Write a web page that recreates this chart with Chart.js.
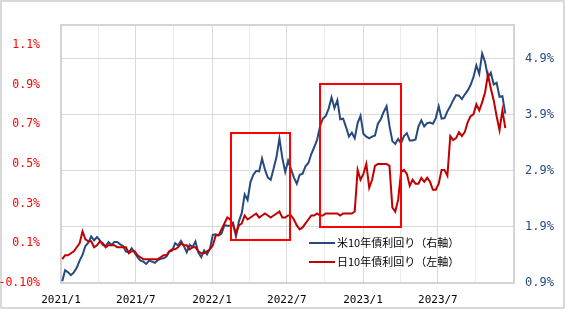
<!DOCTYPE html>
<html>
<head>
<meta charset="utf-8">
<script src="https://cdn.jsdelivr.net/npm/chart.js@4.4.0/dist/chart.umd.min.js"></script>
<style>
  body { margin: 0; background: #fff; }
</style>
</head>
<body>
<canvas id="yieldChart" width="568" height="314"></canvas>
<script>
// weekly readings, first week of 2021 onwards
const firstWeek = '2021-01-04'

// US 10y yield (%), right axis
const usYield = [
  0.93, 1.13, 1.09, 1.04, 1.09, 1.17, 1.30, 1.40, 1.56, 1.62,
  1.73, 1.66, 1.72, 1.66, 1.58, 1.56, 1.63, 1.58, 1.63, 1.63,
  1.59, 1.56, 1.46, 1.45, 1.52, 1.44, 1.36, 1.30, 1.28, 1.24,
  1.30, 1.28, 1.26, 1.31, 1.33, 1.34, 1.37, 1.46, 1.48, 1.61,
  1.57, 1.65, 1.56, 1.45, 1.58, 1.54, 1.64, 1.44, 1.36, 1.48,
  1.41, 1.51,
  1.76, 1.77, 1.75, 1.78, 1.93, 1.92, 1.92, 1.97, 1.73, 2.00,
  2.15, 2.48, 2.38, 2.70, 2.83, 2.90, 2.89, 3.12, 2.92, 2.78,
  2.74, 2.94, 3.15, 3.48, 3.13, 2.88, 3.08, 2.93, 2.78, 2.67,
  2.83, 2.85, 2.98, 3.04, 3.20, 3.32, 3.45, 3.69, 3.83, 3.88,
  4.01, 4.21, 4.02, 4.16, 3.82, 3.83, 3.68, 3.51, 3.58, 3.48,
  3.75, 3.88,
  3.56, 3.51, 3.48, 3.51, 3.53, 3.74, 3.82, 3.95, 4.05, 3.70,
  3.43, 3.38, 3.47, 3.39, 3.52, 3.57, 3.44, 3.44, 3.46, 3.69,
  3.80, 3.69, 3.75, 3.76, 3.74, 3.84, 4.05, 3.83, 3.84, 3.96,
  4.05, 4.16, 4.25, 4.24, 4.18, 4.26, 4.33, 4.43, 4.57, 4.78,
  4.63, 4.99, 4.84, 4.57, 4.65, 4.44, 4.47, 4.22, 4.23, 3.92
]

// Japan 10y yield (%), left axis
const jpYield = [
  0.02, 0.04, 0.04, 0.05, 0.06, 0.08, 0.10, 0.16, 0.12, 0.11,
  0.11, 0.08, 0.09, 0.11, 0.10, 0.08, 0.09, 0.09, 0.09, 0.08,
  0.08, 0.08, 0.08, 0.05, 0.06, 0.06, 0.04, 0.03, 0.02, 0.02,
  0.02, 0.02, 0.02, 0.02, 0.03, 0.04, 0.04, 0.06, 0.07, 0.07,
  0.08, 0.10, 0.09, 0.09, 0.07, 0.08, 0.08, 0.06, 0.05, 0.05,
  0.06, 0.07,
  0.09, 0.14, 0.14, 0.17, 0.20, 0.23, 0.22, 0.19, 0.15, 0.19,
  0.20, 0.24, 0.22, 0.23, 0.24, 0.25, 0.23, 0.24, 0.25, 0.24,
  0.23, 0.24, 0.25, 0.26, 0.23, 0.23, 0.24, 0.24, 0.22, 0.19,
  0.17, 0.18, 0.20, 0.22, 0.24, 0.24, 0.25, 0.24, 0.24, 0.25,
  0.25, 0.25, 0.25, 0.25, 0.24, 0.25, 0.25, 0.25, 0.25, 0.26,
  0.47, 0.42,
  0.45, 0.50, 0.38, 0.42, 0.49, 0.50, 0.50, 0.50, 0.50, 0.49,
  0.28, 0.26, 0.32, 0.46, 0.47, 0.45, 0.39, 0.42, 0.40, 0.40,
  0.43, 0.41, 0.43, 0.41, 0.37, 0.37, 0.40, 0.47, 0.47, 0.44,
  0.64, 0.62, 0.63, 0.66, 0.64, 0.66, 0.71, 0.74, 0.75, 0.80,
  0.77, 0.81, 0.86, 0.95, 0.88, 0.82, 0.74, 0.67, 0.77, 0.68
]

const seriesNames = ['米10年債利回り（右軸）', '日10年債利回り（左軸）']

const leftTicks = [-0.1, 0.1, 0.3, 0.5, 0.7, 0.9, 1.1]
const leftTickLabels = ['-0.10%', '0.1%', '0.3%', '0.5%', '0.7%', '0.9%', '1.1%']
const rightTicks = [0.9, 1.9, 2.9, 3.9, 4.9]
const rightTickLabels = ['0.9%', '1.9%', '2.9%', '3.9%', '4.9%']

const xTickMonths = ['2021-01', '2021-04', '2021-07', '2021-10', '2022-01', '2022-04', '2022-07',
  '2022-10', '2023-01', '2023-04', '2023-07', '2023-10', '2024-01']
const xTickLabels = ['2021/1', '', '2021/7', '', '2022/1', '', '2022/7', '', '2023/1', '', '2023/7', '', '']

// the two red boxes (dates, right-axis %)
const highlightBoxes = [
  { from: '2022-02-16', to: '2022-07-09', low: 1.67, high: 3.57 },
  { from: '2022-09-18', to: '2023-04-02', low: 1.90, high: 4.45 }
]

const blue = '#264A7E'
const red = '#C00000'

function dayOf(str) {
  return (Date.parse(str) - Date.parse('2021-01-01')) / 86400000
}

const start = dayOf(firstWeek)
const usPoints = usYield.map((v, i) => ({ x: start + 7 * i, y: v }))
const jpPoints = jpYield.map((v, i) => ({ x: start + 7 * i, y: v }))

const framePlugin = {
  id: 'frame',
  beforeDraw(chart) {
    const c = chart.ctx
    c.save()
    c.fillStyle = '#fff'
    c.fillRect(0, 0, chart.width, chart.height)
    c.strokeStyle = '#D9D9D9'
    c.lineWidth = 2
    c.strokeRect(1, 1, 563, 307)
    c.restore()
  },
  beforeDatasetsDraw(chart) {
    const a = chart.chartArea
    const c = chart.ctx
    c.save()
    c.strokeStyle = '#D4D4D4'
    c.lineWidth = 2
    c.strokeRect(a.left, a.top, a.right - a.left, a.bottom - a.top)
    c.restore()
  },
  afterDatasetsDraw(chart) {
    const c = chart.ctx
    const xs = chart.scales.x
    const ys = chart.scales.yRight
    c.save()
    c.strokeStyle = '#FF0000'
    c.lineWidth = 2
    highlightBoxes.forEach((b) => {
      const x1 = Math.round(xs.getPixelForValue(dayOf(b.from)))
      const x2 = Math.round(xs.getPixelForValue(dayOf(b.to)))
      const y1 = Math.round(ys.getPixelForValue(b.high))
      const y2 = Math.round(ys.getPixelForValue(b.low))
      c.strokeRect(x1, y1, x2 - x1, y2 - y1)
    })

    // legend, inside the plot at the lower right
    const a = chart.chartArea
    const lx = a.right - 205
    const rows = [
      { name: seriesNames[0], color: blue, y: a.bottom - 40 },
      { name: seriesNames[1], color: red, y: a.bottom - 21 }
    ]
    c.font = '11px "Noto Sans CJK JP"'
    c.textBaseline = 'middle'
    rows.forEach((r) => {
      c.strokeStyle = r.color
      c.lineWidth = 2
      c.beginPath()
      c.moveTo(lx, r.y)
      c.lineTo(lx + 26, r.y)
      c.stroke()
      c.fillStyle = '#000'
      c.fillText(r.name, lx + 28, r.y)
    })
    c.restore()
  }
}

const ctx = document.getElementById('yieldChart').getContext('2d')
const yieldChart = new Chart(ctx, {
  type: 'line',
  data: {
    datasets: [
      {
        label: seriesNames[1],
        data: jpPoints,
        yAxisID: 'yLeft',
        borderColor: red,
        borderWidth: 2,
        pointRadius: 0,
        order: 1
      },
      {
        label: seriesNames[0],
        data: usPoints,
        yAxisID: 'yRight',
        borderColor: blue,
        borderWidth: 2,
        pointRadius: 0,
        order: 2
      }
    ]
  },
  options: {
    responsive: false,
    animation: false,
    devicePixelRatio: 1,
    layout: { padding: { top: 25, left: 0, right: 0, bottom: 0 } },
    plugins: {
      legend: { display: false },
      tooltip: { enabled: false }
    },
    scales: {
      x: {
        type: 'linear',
        min: 0,
        max: dayOf('2024-01-01'),
        afterBuildTicks: (s) => { s.ticks = xTickMonths.map(m => ({ value: dayOf(m + '-01') })) },
        afterFit: (s) => { s.height = 31 },
        ticks: {
          autoSkip: false,
          maxRotation: 0,
          padding: 11,
          color: '#000',
          font: { family: 'DejaVu Sans Mono', size: 11 },
          callback: (v, i) => xTickLabels[i]
        },
        grid: {
          drawTicks: false,
          color: (c) => (c.index % 2 === 0 ? '#D9D9D9' : '#EDEDED')
        },
        border: { display: false }
      },
      yLeft: {
        position: 'left',
        min: -0.1,
        max: 1.2,
        afterBuildTicks: (s) => { s.ticks = leftTicks.map(v => ({ value: v })) },
        afterFit: (s) => { s.width = 61 },
        ticks: {
          padding: 13,
          color: '#FF0000',
          font: { family: 'DejaVu Sans Mono', size: 11.5 },
          callback: (v, i) => leftTickLabels[i]
        },
        grid: { display: false },
        border: { display: false }
      },
      yRight: {
        position: 'right',
        min: 0.9,
        max: 5.5,
        afterBuildTicks: (s) => { s.ticks = rightTicks.map(v => ({ value: v })) },
        afterFit: (s) => { s.width = 54 },
        ticks: {
          padding: 11,
          color: blue,
          font: { family: 'DejaVu Sans Mono', size: 12 },
          callback: (v, i) => rightTickLabels[i]
        },
        grid: { drawTicks: false, color: '#D9D9D9' },
        border: { display: false }
      }
    }
  },
  plugins: [framePlugin]
})
</script>
</body>
</html>
